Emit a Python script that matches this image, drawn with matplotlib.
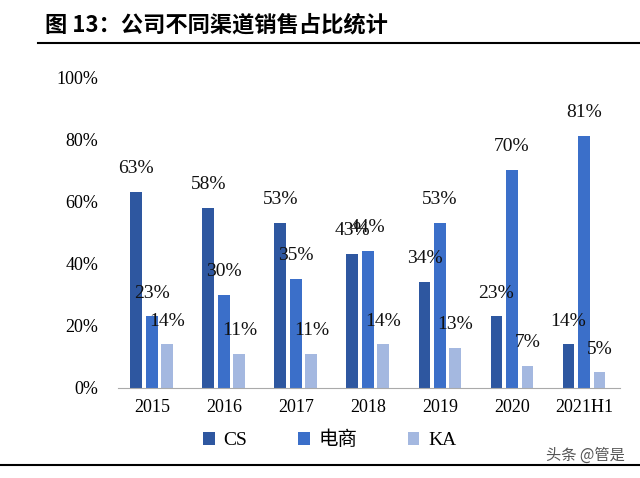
import numpy as np
import matplotlib.pyplot as plt

# data
years = ["2015", "2016", "2017", "2018", "2019", "2020", "2021H1"]
cs = [63, 58, 53, 43, 34, 23, 14]
ecom = [23, 30, 35, 44, 53, 70, 81]
ka = [14, 11, 11, 14, 13, 7, 5]
series_names = ["CS", "电商", "KA"]
colors = ["#2E57A0", "#3B6FC9", "#A4B8E0"]

serif = ["Liberation Serif", "Noto Sans CJK SC"]
cjk = ["Noto Sans CJK SC", "DejaVu Sans"]

fig = plt.figure(figsize=(6.4, 4.78), dpi=100)
ax = fig.add_axes([118 / 640, 1 - 388 / 478, (620 - 118) / 640, (388 - 77) / 478])

x = np.arange(len(years))
width = 0.165
step = 0.215
for i, (vals, name, col) in enumerate(zip([cs, ecom, ka], series_names, colors)):
    pos = x + (i - 1) * step
    ax.bar(pos, vals, width, color=col, label=name)
    for p, v in zip(pos, vals):
        ax.text(p, v + 7.5, f"{v}%", ha="center", va="center",
                fontsize=14, family=serif, color="#111111")

ax.set_xlim(-0.47, 6.5)
ax.set_ylim(0, 100)
ax.set_yticks(range(0, 101, 20))
ax.set_yticklabels([f"{t}%" for t in range(0, 101, 20)], family=serif, fontsize=13)
ax.set_xticks(x)
ax.set_xticklabels(years, family=serif, fontsize=13)
ax.tick_params(length=0, pad=8)
ax.tick_params(axis="y", pad=14)
for s in ["top", "right", "left"]:
    ax.spines[s].set_visible(False)
ax.spines["bottom"].set_color("#AAAAAA")

# legend
leg = fig.legend(loc="center left", bbox_to_anchor=(203 / 640, 1 - 440 / 478), ncol=3,
                 frameon=False, prop={"size": 14},
                 handlelength=0.6, handleheight=0.6, columnspacing=2.6, handletextpad=0.45,
                 borderaxespad=0, borderpad=0)
for t in leg.get_texts():
    t.set_fontfamily(serif)

# title and rules
fig.text(45 / 640, 1 - 25 / 478, "图 13：公司不同渠道销售占比统计", family=cjk,
         fontsize=16, fontweight="bold", va="center", ha="left")
fig.add_artist(plt.Line2D([38 / 640, 1], [1 - 43 / 478] * 2, color="black", lw=1.5))
fig.add_artist(plt.Line2D([0, 1], [1 - 465 / 478] * 2, color="black", lw=1.5))

fig.text(625 / 640, 1 - 455 / 478, "头条 @管是", family=cjk, fontsize=11,
         color="#555555", ha="right", va="center")

fig.savefig("out.png", dpi=100)
